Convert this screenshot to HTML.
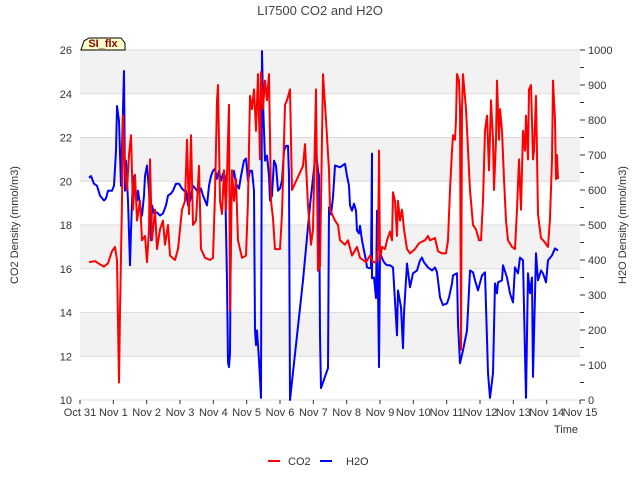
<!DOCTYPE html>
<html><head><meta charset="utf-8"><style>
body{margin:0;background:#fff;}
svg{font-family:"Liberation Sans","DejaVu Sans",sans-serif;}
</style></head><body>
<svg id="chart" width="640" height="480" xmlns="http://www.w3.org/2000/svg">
<text x="320" y="15" text-anchor="middle" font-size="13" fill="#444">LI7500 CO2 and H2O</text>
<g id="bands"></g>
<g id="grid"></g>
<path d="M81,50 L84,41 L89,38 L121,38 L125,43 L125,50 Z" fill="#ffffcc" stroke="#000" stroke-width="1"/>
<text x="103" y="47" text-anchor="middle" font-size="11" font-weight="bold" fill="#8b0000">SI_flx</text>
<g id="axes"></g>
<g id="series"></g>
<text x="18" y="225" text-anchor="middle" font-size="11" fill="#333" transform="rotate(-90 18 225)">CO2 Density (mmol/m3)</text>
<text x="626" y="225" text-anchor="middle" font-size="11" fill="#333" transform="rotate(-90 626 225)">H2O Density (mmol/m3)</text>
<text x="578" y="433" text-anchor="end" font-size="11" fill="#333">Time</text>
<g>
<line x1="268" y1="461" x2="280" y2="461" stroke="#f00" stroke-width="2"/>
<text x="288" y="465" font-size="11" fill="#333">CO2</text>
<line x1="320" y1="461" x2="332" y2="461" stroke="#00f" stroke-width="2"/>
<text x="346" y="465" font-size="11" fill="#333">H2O</text>
</g>
</svg>
<script>
const xTickLabels=["Oct 31","Nov 1","Nov 2","Nov 3","Nov 4","Nov 5","Nov 6","Nov 7","Nov 8","Nov 9","Nov 10","Nov 11","Nov 12","Nov 13","Nov 14","Nov 15"];
const leftTicks=[10,12,14,16,18,20,22,24,26];
const rightTicks=[0,100,200,300,400,500,600,700,800,900,1000];
const co2Days=[0.27,0.45,0.60,0.72,0.84,0.96,1.05,1.11,1.17,1.20,1.26,1.29,1.35,1.41,1.47,1.53,1.59,1.65,1.71,1.80,1.86,1.95,2.01,2.07,2.10,2.16,2.25,2.31,2.40,2.49,2.55,2.64,2.70,2.85,2.94,3.06,3.15,3.21,3.27,3.33,3.39,3.48,3.57,3.63,3.75,3.90,3.99,4.05,4.11,4.14,4.20,4.26,4.32,4.38,4.47,4.50,4.56,4.62,4.68,4.74,4.86,4.98,5.04,5.10,5.16,5.22,5.28,5.34,5.40,5.43,5.49,5.55,5.61,5.67,5.73,5.79,5.85,6.00,6.06,6.15,6.21,6.30,6.36,6.69,6.75,6.84,6.93,6.99,7.08,7.14,7.20,7.29,7.38,7.47,7.50,7.65,7.74,7.80,7.95,8.04,8.16,8.31,8.40,8.49,8.58,8.70,8.79,8.88,8.94,8.97,9.00,9.06,9.15,9.21,9.30,9.36,9.39,9.45,9.51,9.54,9.60,9.66,9.72,9.81,9.90,10.05,10.14,10.20,10.35,10.44,10.50,10.65,10.74,10.86,10.98,11.04,11.10,11.16,11.19,11.25,11.28,11.31,11.37,11.40,11.43,11.46,11.49,11.58,11.70,11.79,11.88,11.97,12.03,12.09,12.15,12.21,12.27,12.33,12.39,12.42,12.48,12.51,12.57,12.60,12.66,12.72,12.78,12.84,12.96,13.05,13.11,13.17,13.23,13.29,13.35,13.38,13.44,13.47,13.53,13.59,13.62,13.68,13.74,13.83,13.95,14.04,14.10,14.16,14.19,14.25,14.28,14.31,14.34];
const co2Values=[16.3,16.35,16.2,16.1,16.25,16.8,17.0,16.4,10.8,14.1,19.1,23.0,20.5,19.6,21.2,22.1,18.7,20.3,18.2,19.1,17.3,17.5,16.3,17.8,21.0,17.3,18.7,16.9,17.8,18.2,17.1,18.0,16.6,16.4,16.9,18.7,19.1,21.9,18.5,22.1,18.0,18.2,20.7,16.9,16.5,16.4,16.5,19.4,23.7,24.4,19.1,18.5,20.5,18.7,23.5,14.1,20.5,19.1,20.1,17.3,16.5,16.6,19.1,23.9,23.3,24.2,22.3,24.9,21.0,25.0,23.3,24.6,23.7,24.9,19.1,18.3,16.9,16.9,18.5,23.5,23.7,24.2,19.6,20.7,21.7,18.9,17.1,17.8,24.2,15.9,16.1,24.9,22.8,20.5,18.7,18.2,18.0,17.3,17.1,17.3,16.6,17.0,16.5,16.4,16.3,16.6,16.3,16.3,16.9,21.4,16.4,17.0,16.9,17.3,17.7,17.3,19.5,19.1,17.5,19.1,18.2,18.7,17.8,16.9,16.7,16.9,17.1,17.2,17.3,17.5,17.3,17.4,16.8,16.7,16.7,17.3,19.6,21.4,22.1,21.9,22.8,24.9,24.6,23.3,12.3,23.3,24.9,23.3,19.6,18.0,17.8,17.3,17.3,19.1,22.3,23.0,20.5,23.7,21.9,19.6,21.9,24.6,21.9,23.3,22.3,20.1,18.2,17.3,17.0,16.9,18.7,21.0,18.7,22.3,21.4,23.0,21.0,24.2,24.4,21.0,21.4,23.9,18.5,17.4,17.2,17.0,18.3,21.0,24.6,22.8,20.1,21.2,20.1];
const h2oDays=[0.27,0.33,0.42,0.51,0.60,0.72,0.78,0.84,0.96,1.02,1.08,1.11,1.17,1.23,1.32,1.35,1.38,1.44,1.50,1.53,1.59,1.65,1.71,1.74,1.80,1.86,1.92,1.95,2.01,2.07,2.10,2.13,2.16,2.22,2.31,2.40,2.49,2.58,2.64,2.73,2.79,2.88,2.97,3.06,3.12,3.18,3.24,3.30,3.39,3.45,3.51,3.57,3.63,3.69,3.75,3.81,3.87,3.93,3.99,4.05,4.11,4.17,4.23,4.29,4.35,4.41,4.44,4.47,4.50,4.53,4.56,4.62,4.68,4.77,4.83,4.92,4.98,5.04,5.10,5.16,5.22,5.25,5.28,5.31,5.37,5.43,5.46,5.49,5.55,5.61,5.67,5.70,5.76,5.82,5.88,5.94,6.00,6.06,6.12,6.18,6.24,6.27,6.30,6.69,6.90,7.08,7.14,7.17,7.20,7.23,7.44,7.47,7.53,7.59,7.65,7.80,7.95,8.01,8.07,8.10,8.16,8.22,8.28,8.31,8.37,8.40,8.46,8.52,8.58,8.61,8.73,8.76,8.76,8.82,8.88,8.91,8.97,9.00,9.09,9.15,9.21,9.30,9.39,9.51,9.54,9.63,9.69,9.72,9.81,9.90,9.99,10.11,10.20,10.26,10.32,10.44,10.56,10.65,10.71,10.74,10.80,10.89,11.01,11.07,11.16,11.19,11.31,11.34,11.40,11.49,11.61,11.70,11.79,11.85,11.94,12.06,12.15,12.24,12.30,12.39,12.45,12.51,12.54,12.66,12.69,12.81,12.90,12.99,13.05,13.14,13.20,13.29,13.35,13.38,13.44,13.50,13.56,13.59,13.68,13.74,13.83,13.89,13.98,14.04,14.16,14.25,14.34];
const h2oValues=[635,640,618,612,584,570,576,598,598,612,712,840,798,612,940,598,684,570,385,484,640,612,570,598,556,527,584,640,670,598,527,456,556,533,536,527,533,556,584,590,598,618,618,604,598,598,556,570,612,606,598,593,604,584,570,556,612,640,655,661,632,655,627,647,640,342,108,94,134,541,627,655,618,604,640,684,690,627,655,655,598,199,157,199,114,6,997,855,684,698,640,570,584,684,670,598,604,627,712,726,726,640,0,342,556,712,655,640,185,34,91,550,530,580,670,665,675,640,612,556,541,561,541,484,476,498,456,427,399,379,376,704,348,350,291,541,94,419,399,390,385,385,379,185,313,265,148,248,390,322,362,370,399,407,393,379,370,379,365,342,293,271,276,293,333,356,362,219,105,142,199,370,365,342,313,356,365,77,6,77,333,305,336,342,385,350,305,279,379,362,407,399,134,6,362,305,350,66,419,342,370,362,336,399,413,433,427];

const NS="http://www.w3.org/2000/svg";
const L=80,R=580,T=50,B=400;
const xScale=d=>L+(R-L)*d/15;
const yL=v=>B-(B-T)*(v-10)/16;
const yR=v=>B-(B-T)*v/1000;
function mk(tag,attrs,parent){const e=document.createElementNS(NS,tag);for(const k in attrs)e.setAttribute(k,attrs[k]);parent.appendChild(e);return e;}
const bands=document.getElementById('bands'),grid=document.getElementById('grid'),axes=document.getElementById('axes'),series=document.getElementById('series');
mk('rect',{x:L,y:T,width:R-L,height:B-T,fill:'#fff'},bands);
for(let i=0;i<leftTicks.length-1;i+=2){
  const lo=leftTicks[i],hi=leftTicks[i+1];
  const r=mk('rect',{x:L,y:yL(hi+2)<T?T:yL(hi+2),width:R-L,height:yL(hi)-yL(hi+2),fill:'#f2f2f2'},bands);
  
  
}
leftTicks.forEach(v=>{
  const y=yL(v);
  const g=mk('line',{x1:L,x2:R,y1:y,y2:y,stroke:'#dcdcdc','stroke-width':1},grid);
  
  
  const t=mk('text',{x:L-8,y:y+4,'text-anchor':'end','font-size':11,fill:'#333'},axes);
  t.textContent=v;
  
  
});
rightTicks.forEach(v=>{
  const y=yR(v);
  const t=mk('text',{x:R+8,y:y+4,'font-size':11,fill:'#333'},axes);
  t.textContent=v;
  
  
  mk('line',{x1:R,x2:R+5,y1:y,y2:y,stroke:'#333'},axes);
  if(v<1000){const ym=yR(v+50);mk('line',{x1:R,x2:R+4,y1:ym,y2:ym,stroke:'#333'},axes);}
});
xTickLabels.forEach((lab,i)=>{
  const x=xScale(i);
  const t=mk('text',{x:x,y:416,'text-anchor':'middle','font-size':11,fill:'#333'},axes);
  t.textContent=lab;
  
  
  mk('line',{x1:x,x2:x,y1:B,y2:B+4,stroke:'#333'},axes);
});
function line(days,vals,ys,color,name){
  const d=days.map((t,i)=>(i?'L':'M')+xScale(t).toFixed(1)+','+ys(vals[i]).toFixed(1)).join(' ');
  const p=mk('path',{d:d,fill:'none',stroke:color,'stroke-width':2,'stroke-linejoin':'round'},series);
  
  
}
line(h2oDays,h2oValues,yR,'#0000ff','h2o-line');
line(co2Days,co2Values,yL,'#ff0000','co2-line');
</script>
</body></html>
